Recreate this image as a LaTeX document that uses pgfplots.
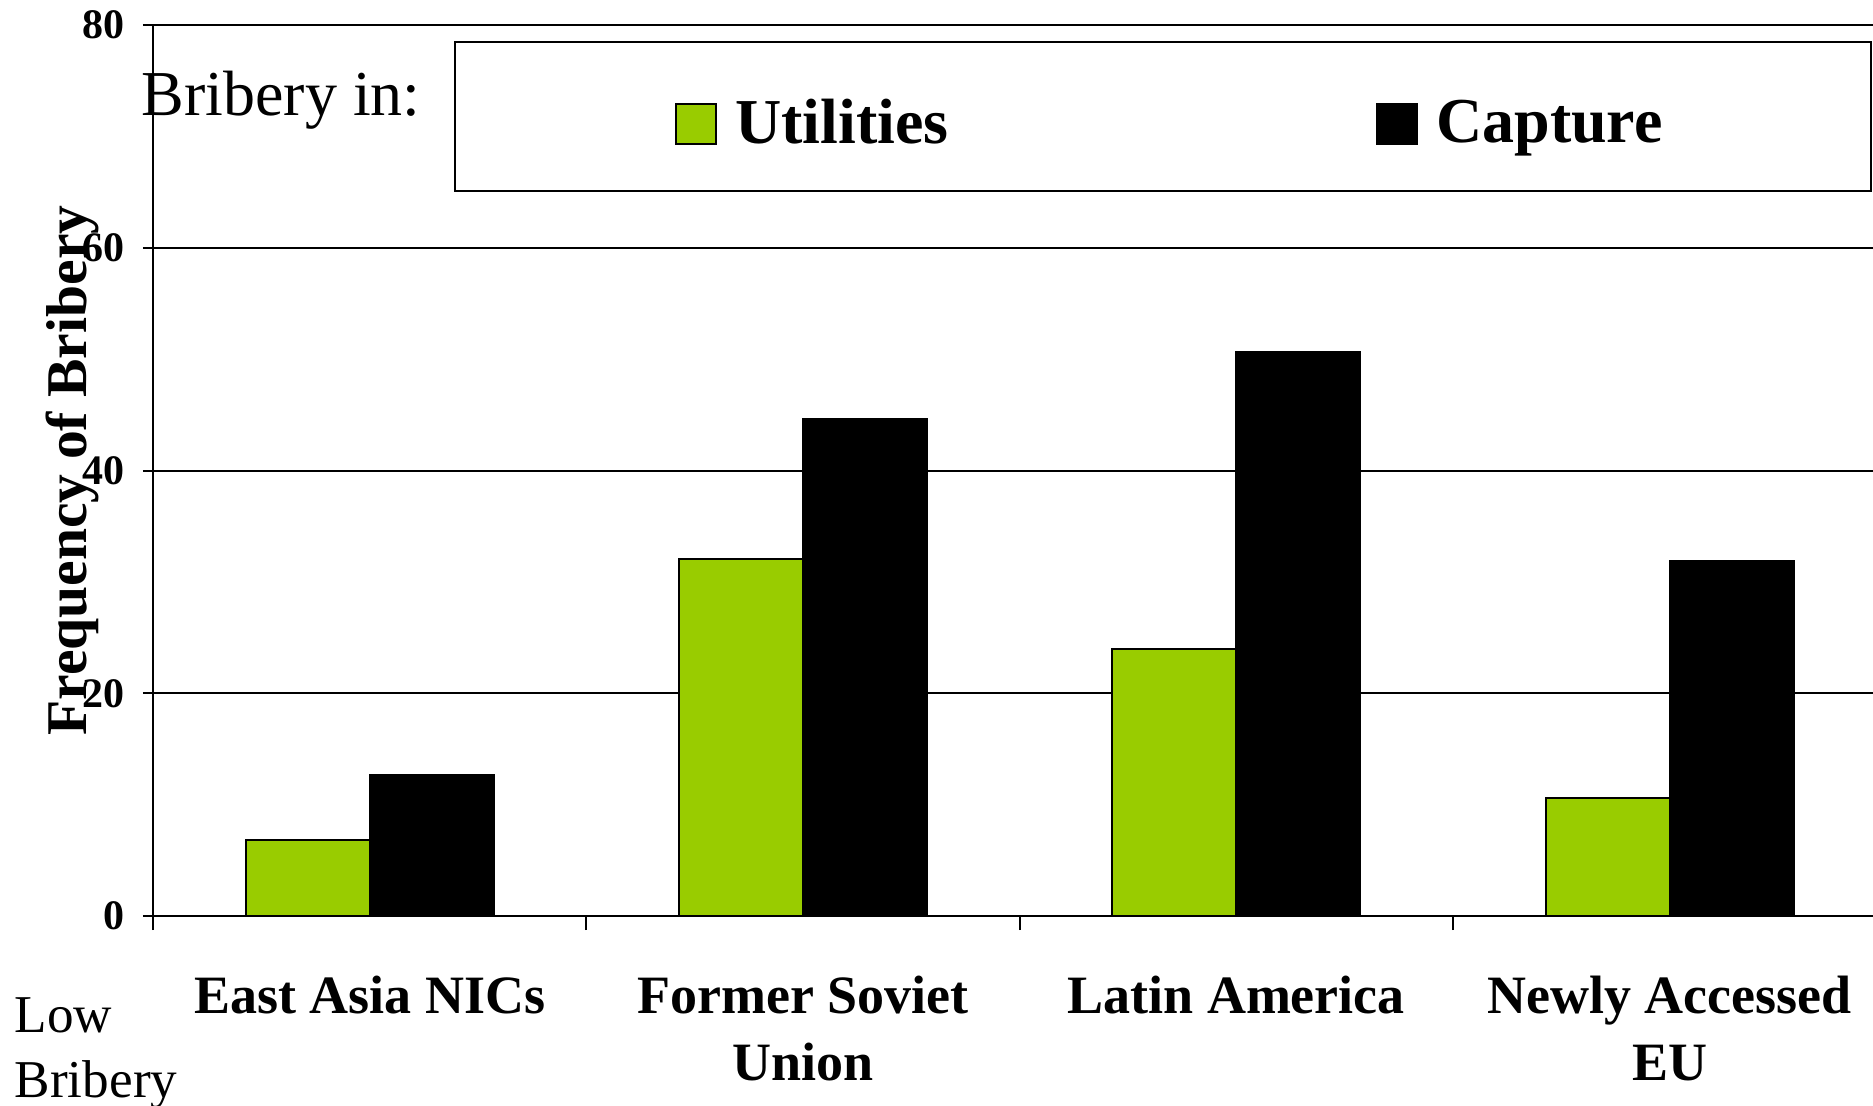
\documentclass[border=0pt]{standalone}
\usepackage{fontspec}
\setmainfont{Liberation Serif}
\usepackage{pgfplots}
\pgfplotsset{compat=1.18}
\definecolor{Lime}{RGB}{153,204,0}

\begin{document}
\begin{tikzpicture}
\begin{axis}[
    name=ax,
    scale only axis,
    width=433.3pt, height=222.75pt,
    xmin=-0.5, xmax=3.5,
    ymin=0, ymax=80,
    axis x line*=bottom, axis y line*=left,
    axis line style={black, line width=0.5pt},
    xtick={0,1,2,3},
    xticklabels={East Asia NICs, Former Soviet\\Union, Latin America, Newly Accessed\\EU},
    minor xtick={-0.5,0.5,1.5,2.5},
    major x tick style={draw=none},
    minor tick length=3.5pt,
    major tick length=2.5pt,
    tick align=outside,
    tick style={black, line width=0.5pt},
    ytick={0,20,40,60,80},
    ymajorgrids, major grid style={black, line width=0.5pt},
    /pgf/number format/assume math mode=true,
    yticklabel style={font=\bfseries\fontsize{10.5}{12}\selectfont, xshift=-1.2pt},
    xticklabel style={font=\bfseries\fontsize{13.5}{16.75}\selectfont, align=center, anchor=north, yshift=-9pt},
    ylabel={Frequency of Bribery},
    ylabel style={at={(rel axis cs:-0.0464,0.5)}, anchor=center, font=\bfseries\fontsize{14.4}{17}\selectfont},
    ybar=0pt, bar width=31pt,
    clip=false,
    legend columns=2,
    legend style={draw=none, fill=none, at={(rel axis cs:0.294,0.8886)}, anchor=west,
                  font=\bfseries\fontsize{16}{19}\selectfont,
                  /tikz/every odd column/.append style={column sep=2.6pt},
                  /tikz/every even column/.append style={column sep=104.9pt}},
    legend image code/.code={\draw[#1, draw=black, line width=0.4pt] (0pt,-5pt) rectangle (10pt,5pt);},
]
\draw[line width=0.6pt, fill=white] (rel axis cs:0.1742,0.8137) rectangle (rel axis cs:0.9912,0.981);
\node[anchor=base west, font=\fontsize{16}{19}\selectfont, inner sep=0pt] at (rel axis cs:-0.007,0.8979) {Bribery in:};
\addplot[fill=Lime, draw=black, line width=0.5pt]
    coordinates {(0,6.8) (1,32.1) (2,24.0) (3,10.6)};
\addplot[fill=black, draw=black, line width=0.5pt]
    coordinates {(0,12.7) (1,44.6) (2,50.6) (3,31.9)};
\legend{Utilities, Capture}
\end{axis}
\node[anchor=base west, font=\fontsize{13.3}{16}\selectfont, inner sep=0pt] at (-34.75pt,-29pt) {Low};
\node[anchor=base west, font=\fontsize{13.3}{16}\selectfont, inner sep=0pt] at (-34.75pt,-45.25pt) {Bribery};
\pgfresetboundingbox
\useasboundingbox (-38.25pt,-47.25pt) rectangle (430pt,229pt);
\end{tikzpicture}
\end{document}
